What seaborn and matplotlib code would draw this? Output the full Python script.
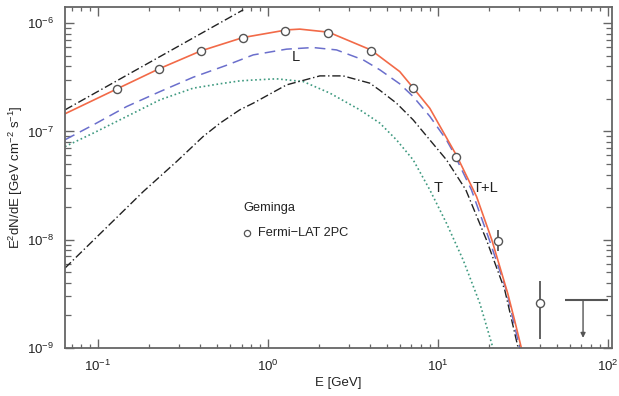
import numpy as np
import pandas as pd
import seaborn as sns
import matplotlib.pyplot as plt

plt.switch_backend("Agg")

# Fermi-LAT 2PC points for Geminga (E in GeV, E^2 dN/dE)
pts_e = [0.129, 0.229, 0.404, 0.713, 1.27, 2.27, 4.04, 7.16, 12.8, 22.6, 40.2]
pts_f = [2.47e-7, 3.79e-7, 5.55e-7, 7.31e-7, 8.49e-7, 8.13e-7, 5.55e-7, 2.53e-7, 5.86e-8, 9.8e-9, 2.6e-9]
err_e = [22.6, 40.2]
err_lo = [7.9e-9, 1.2e-9]
err_hi = [1.23e-8, 4.2e-9]
ul_e_lo, ul_e_hi, ul_e = 55.8, 100.0, 71.6
ul_f, ul_tip = 2.75e-9, 1.24e-9

# model curves, read as (log10 E, log10 flux)
tl_logE = [-1.194, -0.888, -0.641, -0.394, -0.147, 0.112, 0.188, 0.357, 0.606, 0.776,
           0.855, 0.953, 1.114, 1.228, 1.318, 1.412, 1.453, 1.492]
tl_logF = [-6.837, -6.607, -6.422, -6.256, -6.133, -6.062, -6.055, -6.083, -6.247, -6.447,
           -6.597, -6.786, -7.232, -7.601, -8.001, -8.498, -8.750, -9.001]

l_logE = [-1.194, -1.028, -0.831, -0.635, -0.439, -0.245, -0.086, 0.110, 0.266, 0.404,
          0.561, 0.659, 0.776, 0.855, 0.953, 1.051, 1.094, 1.198, 1.303, 1.403, 1.482]
l_logF = [-7.077, -6.940, -6.770, -6.632, -6.499, -6.390, -6.293, -6.240, -6.225, -6.247,
          -6.339, -6.431, -6.560, -6.678, -6.860, -7.078, -7.200, -7.539, -8.000, -8.463, -9.000]

t_logE = [-1.194, -0.733, -0.537, -0.381, -0.282, -0.165, -0.086, 0.110, 0.306, 0.443,
          0.600, 0.659, 0.757, 0.855, 0.953, 1.051, 1.165, 1.286, 1.394, 1.473]
t_logF = [-8.262, -7.555, -7.278, -7.047, -6.924, -6.800, -6.739, -6.570, -6.487, -6.487,
          -6.554, -6.620, -6.739, -6.893, -7.078, -7.262, -7.539, -8.000, -8.463, -9.000]

g_logE = [-1.194, -1.028, -0.831, -0.635, -0.439, -0.282, -0.165, -0.086, 0.051, 0.208,
          0.365, 0.541, 0.659, 0.757, 0.855, 0.953, 1.051, 1.149, 1.247, 1.325]
g_logF = [-7.140, -7.016, -6.862, -6.708, -6.600, -6.560, -6.533, -6.525, -6.514, -6.539,
          -6.646, -6.800, -6.923, -7.078, -7.262, -7.539, -7.847, -8.186, -8.585, -9.001]

pl_logE = [-1.194, -0.145]
pl_logF = [-6.801, -5.877]

sns.set_style("ticks")
plt.rcParams["font.family"] = ["Liberation Sans", "DejaVu Sans"]
plt.rcParams["mathtext.default"] = "regular"

fig = plt.figure(figsize=(6.19, 3.96), dpi=100)
ax = fig.add_axes([0.105, 0.1212, 0.8837, 0.8611])
ax.set(xscale="log", yscale="log")

def curve(le, lf):
    return pd.DataFrame({"E": 10 ** np.array(le), "F": 10 ** np.array(lf)})

dashdot = (0, (6, 2, 1, 2))
sns.lineplot(data=curve(g_logE, g_logF), x="E", y="F", ax=ax, color="#3f9a80",
             lw=1.2, linestyle=(0, (1, 1.6)), estimator=None, sort=False)
sns.lineplot(data=curve(t_logE, t_logF), x="E", y="F", ax=ax, color="#222222",
             lw=1.0, linestyle=dashdot, estimator=None, sort=False)
sns.lineplot(data=curve(pl_logE, pl_logF), x="E", y="F", ax=ax, color="#222222",
             lw=1.0, linestyle=dashdot, estimator=None, sort=False)
sns.lineplot(data=curve(l_logE, l_logF), x="E", y="F", ax=ax, color="#6b6fcc",
             lw=1.1, linestyle=(0, (7, 4)), estimator=None, sort=False)
sns.lineplot(data=curve(tl_logE, tl_logF), x="E", y="F", ax=ax, color="#f26a48",
             lw=1.2, estimator=None, sort=False)

# error bars and upper limit
ax.vlines(err_e, err_lo, err_hi, color="#555555", lw=1.3, zorder=4)
ax.hlines(ul_f, ul_e_lo, ul_e_hi, color="#555555", lw=1.5, zorder=4)
ax.annotate("", xy=(ul_e, ul_tip), xytext=(ul_e, ul_f),
            arrowprops=dict(arrowstyle="-|>", color="#555555", lw=1.0, mutation_scale=7,
                            shrinkA=0, shrinkB=0))

sns.scatterplot(x=pts_e, y=pts_f, ax=ax, marker="o", s=34, facecolor="white",
                edgecolor="#555555", linewidth=1.0, zorder=5)

# labels
ax.text(1.46, 4.89e-7, "L", fontsize=10.5, color="#222222", ha="center", va="center")
ax.text(10.0, 3.01e-8, "T", fontsize=10.5, color="#222222", ha="center", va="center")
ax.text(19.2, 3.01e-8, "T+L", fontsize=10.5, color="#222222", ha="center", va="center")
ax.text(0.722, 1.97e-8, "Geminga", fontsize=9.2, color="#222222", ha="left", va="center")
ax.plot([0.756], [1.15e-8], marker="o", ms=4.5, mfc="white", mec="#555555", mew=0.9, ls="none")
ax.text(0.873, 1.15e-8, "Fermi\u2212LAT 2PC", fontsize=9.2, color="#222222", ha="left", va="center")

ax.set_xlim(0.064, 106)
ax.set_ylim(1e-9, 1.41e-6)
ax.set_xlabel("E [GeV]", fontsize=9.5, color="#222222", labelpad=2)
ax.set_ylabel("E$^2$dN/dE [GeV cm$^{-2}$ s$^{-1}$]", fontsize=9.5, color="#222222", labelpad=1)
ax.xaxis.get_offset_text().set_visible(False)
ax.yaxis.get_offset_text().set_visible(False)

for s in ax.spines.values():
    s.set_visible(True)
    s.set_color("#666666")
    s.set_linewidth(1.3)
ax.tick_params(which="both", direction="in", top=True, right=True, colors="#666666",
               labelcolor="#222222", labelsize=9.5)
ax.tick_params(which="major", length=6.5, width=1.0, pad=8)
ax.tick_params(axis="x", which="minor", length=3.2, width=0.9)
ax.tick_params(axis="y", which="minor", length=4.5, width=0.9)

fig.savefig("out.png", dpi=100)
